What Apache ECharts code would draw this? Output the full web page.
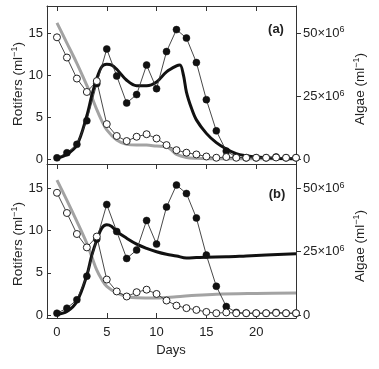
<!DOCTYPE html>
<html><head><meta charset="utf-8">
<script src="https://cdn.jsdelivr.net/npm/echarts@6/dist/echarts.min.js"></script>
<style>html,body{margin:0;padding:0;background:#fff}#c{width:379px;height:369px}</style>
</head><body><div id="c"></div>
<script>
// Observations (same in both panels)
const days = [0,1,2,3,4,5,6,7,8,9,10,11,12,13,14,15,16,17,18,19,20,21,22,23,24];
const rotifers = [0.2,0.8,1.8,4.6,9.0,13.1,9.9,6.7,7.7,11.2,8.4,12.8,15.4,14.4,11.5,7.1,3.4,1.0,0.3,0.2,0.2,0.2,0.3,0.2,0.2]; // per ml
const algae = [48.3,40.3,32.0,26.7,31.0,14.0,9.3,7.3,9.0,10.0,8.3,5.7,3.7,2.7,2.0,1.2,0.7,1.0,0.7,0.7,0.7,0.7,0.8,0.7,0.7]; // x10^6 per ml

// Model (a)
const rotModelDaysA = [0,1,2,3,3.5,4,4.5,5,5.5,6,7,8,9,10,11,12,12.35,12.7,13,13.5,14,15,16,17,18,19,20,22,24];
const rotModelA = [0.15,0.6,1.7,5.2,7.6,9.6,11.0,11.3,11.2,10.7,9.4,8.75,8.75,9.2,10.4,11.1,11.2,10.0,8.0,6.1,4.7,3.1,2.0,1.25,0.7,0.45,0.3,0.15,0.1];
const algModelDaysA = [0,1,2,3,3.5,4,4.5,5,6,7,8,9,10,11,11.5,12,13,14,16,20,24];
const algModelA = [54,46,38,29.3,24.7,19.7,15.3,11.7,7.7,6,5.7,5.7,5.3,5,3.7,2,0.8,0.5,0.3,0.3,0.3];

// Model (b)
const rotModelDaysB = [0,1,2,3,3.5,4,4.5,5,5.5,6,7,8,9,10,11,12,13,14,15,17,19,21,24];
const rotModelB = [0.05,0.4,1.6,4.7,7.1,8.9,10.3,10.7,10.5,9.9,9.1,8.4,7.9,7.5,7.2,7.0,6.75,6.8,6.85,6.9,7.0,7.1,7.25];
const algModelDaysB = [0,1,2,3,3.5,4,4.5,5,6,7,8,10,12,14,16,20,24];
const algModelB = [53.3,45.3,37,28.3,23,17.7,14,11.3,8.7,7.3,6.8,6.7,7.2,7.8,8.2,8.5,8.7];

const xTicks = [0,5,10,15,20];
const rotTicks = [0,5,10,15];
const algTicks = [0,25,50];

const pairs = (xs, ys) => xs.map((x,i)=>[x, ys[i]]);
const FONT = 'Liberation Sans, Arial, sans-serif';
const TXT = '#222';
const AX = {lineStyle:{color:'#333', width:1}};

function xAx(grid, pos, labels){
  return {type:'value', gridIndex:grid, position:pos, min:-1, max:24,
    axisLine:{show:true, onZero:false, ...AX},
    axisTick:{show:true, inside:true, length:5, customValues:xTicks, lineStyle:{color:'#333'}},
    axisLabel:{show:labels, customValues:xTicks, margin:8, color:TXT, fontSize:13, fontFamily:FONT},
    splitLine:{show:false}};
}
function yLeft(grid, min, max){
  return {type:'value', gridIndex:grid, position:'left', min:min, max:max,
    axisLine:{show:true, onZero:false, ...AX},
    axisTick:{show:true, inside:true, length:4, customValues:rotTicks, lineStyle:{color:'#333'}},
    axisLabel:{customValues:rotTicks, margin:4, color:TXT, fontSize:13, fontFamily:FONT},
    splitLine:{show:false}};
}
function yRight(grid, min, max){
  return {type:'value', gridIndex:grid, position:'right', min:min, max:max,
    axisLine:{show:true, onZero:false, ...AX},
    axisTick:{show:true, inside:false, length:5, customValues:algTicks, lineStyle:{color:'#333'}},
    axisLabel:{customValues:algTicks, margin:7, color:TXT, fontSize:13, fontFamily:FONT,
      formatter: v => v===0 ? '{a|0}' : '{a|'+v+'×10}{s|6}',
      rich:{a:{fontSize:13, fontFamily:FONT, color:TXT}, s:{fontSize:9, fontFamily:FONT, color:TXT, verticalAlign:'top', padding:[0,0,6,0]}}},
    splitLine:{show:false}};
}

const modelStyle = (color)=>({type:'line', smooth:0.35, showSymbol:false, symbol:'none', lineStyle:{color:color, width:3}, silent:true});
const obsFilled = {type:'line', symbol:'circle', symbolSize:7, lineStyle:{color:'#333', width:0.9}, itemStyle:{color:'#111', borderColor:'#111', borderWidth:0.5}};
const obsOpen = {type:'line', symbol:'circle', symbolSize:7, lineStyle:{color:'#333', width:0.9}, itemStyle:{color:'#fff', borderColor:'#222', borderWidth:1}};

const nameRich = {n:{fontSize:13.5, fontFamily:FONT, fill:TXT}, s:{fontSize:9, fontFamily:FONT, fill:TXT, verticalAlign:'top', padding:[0,0,6,0]}};

function nameText(txt, x, y){
  return {type:'text', x:x, y:y, rotation:Math.PI/2,
    style:{text:'{n|'+txt+' (ml}{s|−1}{n|)}', rich:nameRich, align:'center', verticalAlign:'middle', fill:TXT}};
}

const chart = echarts.init(document.getElementById('c'), null, {renderer:'canvas'});
chart.setOption({
  animation:false,
  backgroundColor:'#fff',
  grid:[
    {left:47, right:83, top:6, height:158},
    {left:47, right:83, top:164, height:154}
  ],
  xAxis:[xAx(0,'top',false), xAx(1,'bottom',true), xAx(1,'top',false)],
  yAxis:[yLeft(0,-0.53,18.2), yRight(0,-1.77,60.67), yLeft(1,-0.36,17.9), yRight(1,-1.2,59.67)],
  series:[
    {...modelStyle('#a3a3a3'), xAxisIndex:0, yAxisIndex:1, data:pairs(algModelDaysA, algModelA)},
    {...modelStyle('#111'), xAxisIndex:0, yAxisIndex:0, data:pairs(rotModelDaysA, rotModelA)},
    {...obsFilled, xAxisIndex:0, yAxisIndex:0, data:pairs(days, rotifers)},
    {...obsOpen, xAxisIndex:0, yAxisIndex:1, data:pairs(days, algae)},
    {...modelStyle('#a3a3a3'), xAxisIndex:1, yAxisIndex:3, data:pairs(algModelDaysB, algModelB)},
    {...modelStyle('#111'), xAxisIndex:1, yAxisIndex:2, data:pairs(rotModelDaysB, rotModelB)},
    {...obsFilled, xAxisIndex:1, yAxisIndex:2, data:pairs(days, rotifers)},
    {...obsOpen, xAxisIndex:1, yAxisIndex:3, data:pairs(days, algae)}
  ],
  graphic:[
    nameText('Rotifers', 18, 84),
    nameText('Rotifers', 18, 244),
    nameText('Algae', 360, 89),
    nameText('Algae', 360, 246),
    {type:'text', x:276, y:29, style:{text:'(a)', font:'bold 13px '+FONT, fill:TXT, align:'center', verticalAlign:'middle'}},
    {type:'text', x:277, y:194, style:{text:'(b)', font:'bold 13px '+FONT, fill:TXT, align:'center', verticalAlign:'middle'}},
    {type:'text', x:171, y:350, style:{text:'Days', font:'13px '+FONT, fill:TXT, align:'center', verticalAlign:'middle'}}
  ]
});
</script></body></html>
